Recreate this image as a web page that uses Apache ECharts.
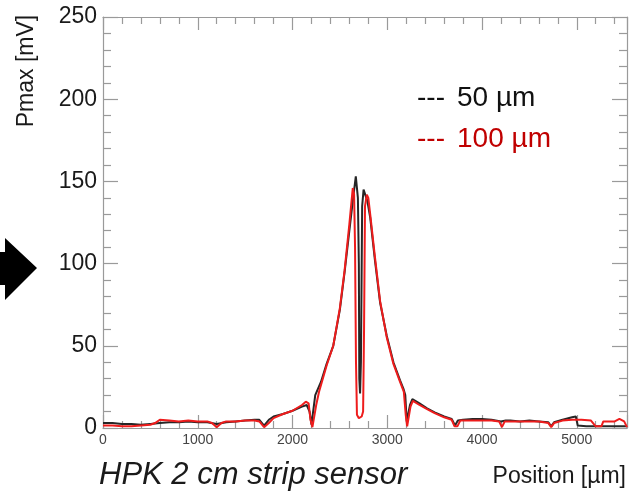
<!DOCTYPE html>
<html>
<head>
<meta charset="utf-8">
<script src="https://cdn.jsdelivr.net/npm/echarts@6/dist/echarts.min.js"></script>
<style>
html,body{margin:0;padding:0;background:#fff;}
#chart{width:629px;height:500px;}
</style>
</head>
<body>
<div id="chart"></div>
<script>
// Position [µm] for 50 µm series
const pos50 = [0,100,200,300,400,500,600,700,800,900,1000,1100,1200,1300,1400,1500,1600,1650,1700,1750,1800,1900,2000,2100,2150,2180,2200,2220,2240,2300,2360,2430,2500,2550,2600,2640,2668,2690,2700,2705,2713,2722,2735,2750,2790,2820,2870,2925,2995,3065,3135,3170,3190,3205,3220,3240,3265,3340,3420,3500,3600,3680,3715,3745,3800,3900,4000,4100,4200,4250,4300,4400,4500,4600,4700,4730,4760,4850,4950,4990,5010,5100,5200,5300,5400,5530];
const val50 = [3,3,2.5,2.5,2,2.5,3,3.5,3.5,4,3.5,3.5,2.5,3.5,4,4.5,5,5,1.5,5,7,8.5,10.5,13,14,10,2,3,20,28,39,50,72,95,120,140,153,140,100,30,21,40,135,145,138,128,102,76,56,40,29,24,20,4,3,14,17.5,15,12,9.5,7,5.5,1.5,4.5,5,5.5,5.5,5,4,4.5,4.5,4,4.5,4,3.5,1,3.5,5,6.5,7,1.5,1,1,1,1,1];
// Position [µm] for 100 µm series
const pos100 = [0,100,200,300,400,500,550,600,700,800,900,1000,1100,1150,1200,1250,1300,1400,1500,1600,1650,1700,1750,1800,1900,2000,2100,2140,2170,2190,2210,2230,2250,2280,2360,2430,2500,2550,2600,2636,2650,2660,2670,2680,2700,2730,2745,2755,2765,2784,2800,2820,2870,2925,2995,3065,3135,3175,3195,3210,3225,3245,3270,3340,3420,3500,3600,3680,3710,3740,3770,3900,4000,4100,4180,4210,4240,4300,4400,4500,4600,4700,4730,4760,4850,4950,5050,5150,5200,5260,5280,5400,5450,5500,5530];
const val100 = [1.5,1.5,1,1,1.5,2,3,5,4.5,4,4.5,4,4,3,0.5,3,4,4,4.5,4.5,4,0.5,3,6,8.5,10.5,14,16,15,5,0.5,1,14,22,38,50,73,96,124,146,142,110,40,8,6,7,10,60,135,142,140,130,104,77,55,39,28,22,8,1,2,13,16.5,14,11.5,9,6.5,5,1,1,4.5,4.5,4.5,4.5,4,0.5,4,4,4,4,4,3,0.5,3,4.5,5,5,4.5,1,1,4,4,5.5,4,0.5];
const xTicks = [0,1000,2000,3000,4000,5000];
const yTicks = [0,50,100,150,200,250];
const seriesNames = ['50 µm','100 µm'];

const chart = echarts.init(document.getElementById('chart'), null, {renderer:'canvas'});
const axisGray = '#9a9a9a';
const xBase = {
  type:'value', min:0, max:5530, interval:1000,
  splitLine:{show:false},
  axisLine:{show:true, onZero:false, lineStyle:{color:axisGray, width:1.2}},
  axisTick:{show:true, inside:true, length:13, lineStyle:{color:axisGray, width:1.2}},
  minorTick:{show:true, splitNumber:5, length:7, lineStyle:{color:axisGray, width:1.2}},
  minorSplitLine:{show:false}
};
const yBase = {
  type:'value', min:0, max:250, interval:50,
  splitLine:{show:false},
  axisLine:{show:true, onZero:false, lineStyle:{color:axisGray, width:1.2}},
  axisTick:{show:true, inside:true, length:15, lineStyle:{color:axisGray, width:1.2}},
  minorTick:{show:true, splitNumber:5, length:8, lineStyle:{color:axisGray, width:1.2}},
  minorSplitLine:{show:false}
};
const option = {
  backgroundColor:'#ffffff',
  animation:false,
  grid:{left:103, right:2, top:17, bottom:72, containLabel:false},
  xAxis:[
    Object.assign({}, xBase, {position:'bottom',
      axisLabel:{show:true, margin:5, fontSize:14, color:'#444', fontFamily:'Liberation Sans',
        showMaxLabel:false, formatter:v => xTicks.includes(v) ? String(v) : ''}}),
    Object.assign({}, xBase, {position:'top', axisLabel:{show:false}})
  ],
  yAxis:[
    Object.assign({}, yBase, {position:'left',
      axisLabel:{show:true, margin:6, fontSize:23, color:'#1a1a1a', fontFamily:'Liberation Sans',
        formatter:v => yTicks.includes(v) ? String(v) : ''}}),
    Object.assign({}, yBase, {position:'right', axisLabel:{show:false}})
  ],
  series:[
    {name:seriesNames[0], type:'line', xAxisIndex:0, yAxisIndex:0, showSymbol:false, symbol:'none',
      data: pos50.map((p,i)=>[p,val50[i]]), lineStyle:{color:'#262626', width:2}, z:2},
    {name:seriesNames[1], type:'line', xAxisIndex:0, yAxisIndex:0, showSymbol:false, symbol:'none',
      data: pos100.map((p,i)=>[p,val100[i]]), lineStyle:{color:'#ee1c1c', width:2}, z:3}
  ],
  graphic:[
    {type:'polygon', shape:{points:[[0,252],[5,252],[5,238],[37,268],[5,300],[5,285],[0,285]]}, style:{fill:'#000'}},
    {type:'text', x:27, y:71, rotation:Math.PI/2,
      style:{text:'Pmax [mV]', font:'23px "Liberation Sans"', fill:'#1a1a1a', textAlign:'center', textVerticalAlign:'middle'}},
    {type:'text', x:417, y:98, style:{text:'---', font:'28px "Liberation Sans"', fill:'#111', textAlign:'left', textVerticalAlign:'middle'}},
    {type:'text', x:457, y:98, style:{text:seriesNames[0], font:'28px "Liberation Sans"', fill:'#111', textAlign:'left', textVerticalAlign:'middle'}},
    {type:'text', x:417, y:139, style:{text:'---', font:'28px "Liberation Sans"', fill:'#c00000', textAlign:'left', textVerticalAlign:'middle'}},
    {type:'text', x:457, y:139, style:{text:seriesNames[1], font:'28px "Liberation Sans"', fill:'#c00000', textAlign:'left', textVerticalAlign:'middle'}},
    {type:'text', x:99, y:475, style:{text:'HPK 2 cm strip sensor', font:'italic 31px "Liberation Sans"', fill:'#1a1a1a', textAlign:'left', textVerticalAlign:'middle'}},
    {type:'text', x:626, y:477, style:{text:'Position [µm]', font:'23px "Liberation Sans"', fill:'#1a1a1a', textAlign:'right', textVerticalAlign:'middle'}}
  ]
};
chart.setOption(option);
</script>
</body>
</html>
